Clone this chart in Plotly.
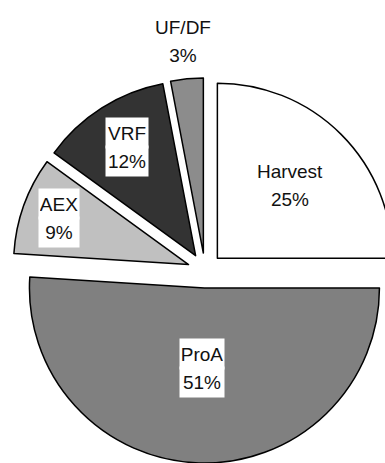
import math
import plotly.graph_objects as go

# Cost share of each purification step
labels = ["Harvest", "ProA", "AEX", "VRF", "UF/DF"]
shares = [25, 51, 9, 12, 3]

# Styling
colors = ["#ffffff", "#808080", "#c0c0c0", "#333333", "#8c8c8c"]
pull = 0.1
label_radius = [0.69, 0.555, 0.885, 0.835, 1.32]   # label distance from pie centre, in radii
boxed = [False, True, True, True, False]
box_width = [70, 42, 38, 40, 60]
font_family = "Liberation Sans, Arial, sans-serif"
font_size = 19
line_gap = 28

W, H = 410, 463
pie_h = 385
dom_y = [0, pie_h / H]

fig = go.Figure(
    go.Pie(
        labels=labels,
        values=shares,
        sort=False,
        direction="clockwise",
        rotation=0,
        pull=pull,
        textinfo="none",
        hoverinfo="label+percent",
        showlegend=False,
        marker=dict(colors=colors, line=dict(color="black", width=1.5)),
        domain=dict(x=[0, 1], y=dom_y),
    )
)

# Pie geometry as laid out by plotly (pixels, y downward)
r = min(W, pie_h) / (2 * (1 + pull))
cx = W / 2
cy = H - pie_h / 2

total = sum(shares)
cum = 0
annotations = []
for i, (name, v) in enumerate(zip(labels, shares)):
    theta = 2 * math.pi * (cum + v / 2) / total
    cum += v
    rho = label_radius[i] * r
    px = cx + rho * math.sin(theta)
    py = cy - rho * math.cos(theta)
    pct = f"{round(v / total * 100)}%"
    for text, yy in ((name, py - line_gap / 2), (pct, py + line_gap / 2)):
        annotations.append(
            dict(
                text=text,
                x=px / W,
                y=1 - yy / H,
                xref="paper",
                yref="paper",
                xanchor="center",
                yanchor="middle",
                showarrow=False,
                font=dict(family=font_family, size=font_size, color="#111111"),
                bgcolor="white" if boxed[i] else "rgba(0,0,0,0)",
                width=box_width[i],
                height=line_gap,
                borderpad=1,
            )
        )

fig.update_layout(
    width=W,
    height=H,
    margin=dict(l=0, r=0, t=0, b=0),
    paper_bgcolor="white",
    plot_bgcolor="white",
    annotations=annotations,
)

fig.write_html("out.html")
